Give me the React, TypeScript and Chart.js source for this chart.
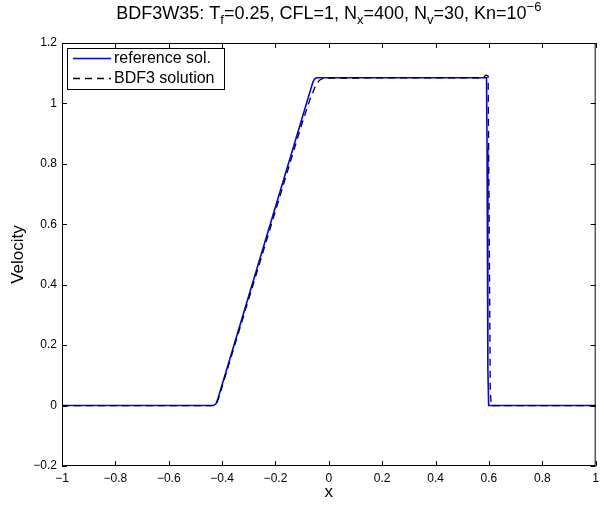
import React, { useEffect, useRef } from "react";
import { Chart, registerables } from "chart.js";

Chart.register(...registerables);

// Reference solution (blue solid)
const refX = [-1, -0.44, -0.43, -0.423, -0.416, -0.06, -0.054, -0.047, 0.586, 0.591, 0.593, 0.596, 0.599, 1];
const refY = [0, 0, 0.001, 0.006, 0.022, 1.07, 1.081, 1.085, 1.085, 1.085, 0.85, 0.12, 0, 0];

// BDF3 solution (black dashed)
const bdfX = [-1, -0.44, -0.428, -0.42, -0.412, -0.1, -0.07, -0.05, -0.035, -0.02, 0.578, 0.589, 0.597, 0.601, 0.605, 0.609, 1];
const bdfY = [0, 0, 0.002, 0.008, 0.027, 0.935, 1.015, 1.058, 1.077, 1.084, 1.085, 1.094, 1.09, 0.6, 0.05, 0, 0];

const seriesLabels = ["reference sol.", "BDF3 solution"];

const xTickVals = [-1, -0.8, -0.6, -0.4, -0.2, 0, 0.2, 0.4, 0.6, 0.8, 1];
const xTickLabels = ["\u22121", "\u22120.8", "\u22120.6", "\u22120.4", "\u22120.2", "0", "0.2", "0.4", "0.6", "0.8", "1"];
const yTickVals = [-0.2, 0, 0.2, 0.4, 0.6, 0.8, 1, 1.2];
const yTickLabels = ["\u22120.2", "0", "0.2", "0.4", "0.6", "0.8", "1", "1.2"];

const FONT = "'Liberation Sans', Arial, sans-serif";

const decorPlugin = {
  id: "decor",
  afterDraw(chart: any) {
    const ctx = chart.ctx;
    const { left, right, top, bottom } = chart.chartArea;
    const xs = chart.scales.x;
    const ys = chart.scales.y;
    ctx.save();
    // box
    ctx.strokeStyle = "#000";
    ctx.lineWidth = 1;
    ctx.strokeRect(left + 0.5, top + 0.5, right - left - 1, bottom - top - 1);
    // inward ticks
    const tl = 5;
    ctx.beginPath();
    xTickVals.forEach((v) => {
      const px = Math.round(xs.getPixelForValue(v)) + 0.5;
      ctx.moveTo(px, bottom);
      ctx.lineTo(px, bottom - tl);
      ctx.moveTo(px, top);
      ctx.lineTo(px, top + tl);
    });
    yTickVals.forEach((v) => {
      const py = Math.round(ys.getPixelForValue(v)) + 0.5;
      ctx.moveTo(left, py);
      ctx.lineTo(left + tl, py);
      ctx.moveTo(right, py);
      ctx.lineTo(right - tl, py);
    });
    ctx.stroke();

    // legend
    const lx = 67, ly = 48, lw = 157, lh = 41;
    ctx.fillStyle = "#fff";
    ctx.fillRect(lx, ly, lw, lh);
    ctx.strokeStyle = "#000";
    ctx.lineWidth = 1;
    ctx.strokeRect(lx + 0.5, ly + 0.5, lw, lh);
    const ds = chart.data.datasets;
    const rows = [
      { d: ds[1], y: 58 },
      { d: ds[0], y: 78 },
    ];
    ctx.font = `16px ${FONT}`;
    ctx.textBaseline = "middle";
    ctx.textAlign = "left";
    rows.forEach((r) => {
      ctx.beginPath();
      ctx.strokeStyle = r.d.borderColor;
      ctx.lineWidth = r.d.borderWidth;
      ctx.setLineDash(r.d.borderDash || []);
      ctx.moveTo(73, r.y + 0.5);
      ctx.lineTo(111, r.y + 0.5);
      ctx.stroke();
      ctx.setLineDash([]);
      ctx.fillStyle = "#000";
      ctx.fillText(r.d.label, 114, r.y + 1);
    });

    // axis titles
    ctx.fillStyle = "#000";
    ctx.font = `17px ${FONT}`;
    ctx.textAlign = "center";
    ctx.textBaseline = "middle";
    ctx.fillText("x", (left + right) / 2, 492);
    ctx.save();
    ctx.translate(18, (top + bottom) / 2);
    ctx.rotate(-Math.PI / 2);
    ctx.fillText("Velocity", 0, 0);
    ctx.restore();

    // title with sub/superscripts
    const parts: [string, number][] = [
      ["BDF3W35: T", 0],
      ["f", -1],
      ["=0.25, CFL=1, N", 0],
      ["x", -1],
      ["=400, N", 0],
      ["v", -1],
      ["=30, Kn=10", 0],
      ["\u22126", 1],
    ];
    const fontFor = (k: number) => (k === 0 ? `18px ${FONT}` : `13px ${FONT}`);
    let total = 0;
    parts.forEach(([t, k]) => {
      ctx.font = fontFor(k);
      total += ctx.measureText(t).width;
    });
    let cx = (left + right) / 2 - total / 2;
    const baseY = 19;
    ctx.textAlign = "left";
    ctx.textBaseline = "alphabetic";
    parts.forEach(([t, k]) => {
      ctx.font = fontFor(k);
      const dy = k === -1 ? 5 : k === 1 ? -8 : 0;
      ctx.fillText(t, cx, baseY + dy);
      cx += ctx.measureText(t).width;
    });
    ctx.restore();
  },
};

export default function App() {
  const ref = useRef<HTMLCanvasElement | null>(null);
  useEffect(() => {
    if (!ref.current) return;
    const chart = new Chart(ref.current, {
      type: "line",
      data: {
        datasets: [
          {
            label: seriesLabels[1],
            data: bdfX.map((x, i) => ({ x, y: bdfY[i] })),
            borderColor: "#000000",
            borderWidth: 1.3,
            borderDash: [7, 5],
            pointRadius: 0,
            fill: false,
            tension: 0,
          },
          {
            label: seriesLabels[0],
            data: refX.map((x, i) => ({ x, y: refY[i] })),
            borderColor: "#0000ff",
            borderWidth: 1.6,
            pointRadius: 0,
            fill: false,
            tension: 0,
          },
        ],
      },
      options: {
        responsive: false,
        animation: false,
        layout: { padding: { top: 43, right: 6, left: 0, bottom: 0 } },
        plugins: {
          legend: { display: false },
          title: { display: false },
          tooltip: { enabled: false },
        },
        scales: {
          x: {
            type: "linear",
            min: -1,
            max: 1,
            grid: { display: false, drawTicks: false },
            border: { display: false },
            afterBuildTicks: (s: any) => {
              s.ticks = xTickVals.map((v) => ({ value: v }));
            },
            afterFit: (s: any) => {
              s.height = 40;
            },
            ticks: {
              padding: 5,
              maxRotation: 0,
              autoSkip: false,
              color: "#000",
              font: { family: FONT, size: 12 },
              callback: (_v: any, i: number) => xTickLabels[i],
            },
          },
          y: {
            type: "linear",
            min: -0.2,
            max: 1.2,
            grid: { display: false, drawTicks: false },
            border: { display: false },
            afterBuildTicks: (s: any) => {
              s.ticks = yTickVals.map((v) => ({ value: v }));
            },
            afterFit: (s: any) => {
              s.width = 62;
            },
            ticks: {
              padding: 5,
              autoSkip: false,
              color: "#000",
              font: { family: FONT, size: 12 },
              callback: (_v: any, i: number) => yTickLabels[i],
            },
          },
        },
      },
      plugins: [decorPlugin],
    } as any);
    return () => chart.destroy();
  }, []);
  return (
    <div style={{ position: "absolute", left: 0, top: 0, width: 604, height: 506, background: "#fff" }}>
      <canvas ref={ref} width={604} height={506} style={{ width: 604, height: 506, display: "block" }} />
    </div>
  );
}
